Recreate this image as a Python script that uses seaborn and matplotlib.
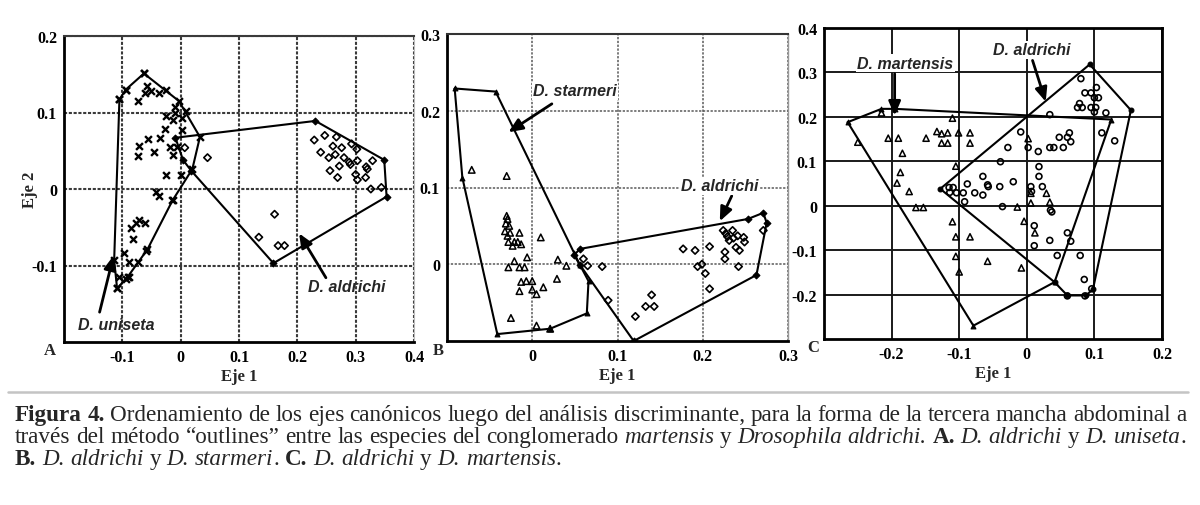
import numpy as np
import pandas as pd
import matplotlib
matplotlib.use("Agg")
import matplotlib.pyplot as plt
from matplotlib.ticker import FuncFormatter
import seaborn as sns

# ---------------- Panel A: D. uniseta vs D. aldrichi ----------------
a_uniseta_x = [-0.063, -0.094, -0.105, -0.074, -0.057, -0.061, -0.051, -0.037, -0.025, -0.009,
               0.009, -0.009, -0.026, -0.013, 0.003, 0.003, -0.027, -0.035, -0.056, -0.071,
               -0.073, -0.045, -0.019, -0.013, -0.006, -0.026, 0.000, -0.043, -0.038, -0.015,
               -0.086, -0.077, -0.071, -0.061, -0.082, -0.097, -0.089, -0.074, -0.060, -0.106,
               -0.094, -0.089, -0.109]
a_uniseta_y = [0.151, 0.130, 0.118, 0.115, 0.134, 0.126, 0.128, 0.126, 0.130, 0.107,
               0.102, 0.099, 0.095, 0.090, 0.093, 0.077, 0.078, 0.067, 0.065, 0.056,
               0.043, 0.048, 0.055, 0.044, 0.055, 0.018, 0.018, -0.004, -0.009, -0.015,
               -0.051, -0.044, -0.040, -0.044, -0.066, -0.084, -0.095, -0.095, -0.081, -0.115,
               -0.117, -0.115, -0.130]
a_aldrichi_x = [0.229, 0.247, 0.267, 0.261, 0.276, 0.293, 0.302, 0.240, 0.254, 0.265,
                0.280, 0.289, 0.272, 0.256, 0.291, 0.303, 0.329, 0.318, 0.320, 0.269,
                0.300, 0.303, 0.317, 0.326, 0.344, 0.161, 0.134, 0.167, 0.178, 0.046,
                0.007]
a_aldrichi_y = [0.064, 0.070, 0.068, 0.056, 0.054, 0.059, 0.052, 0.048, 0.041, 0.045,
                0.041, 0.035, 0.030, 0.024, 0.032, 0.037, 0.037, 0.029, 0.026, 0.015,
                0.019, 0.012, 0.015, 0.000, 0.002, -0.033, -0.063, -0.074, -0.074, 0.041,
                0.054]
a_uniseta_hull_x = [-0.063, -0.003, 0.033, 0.020, -0.014, -0.057, -0.091, -0.109, -0.114, -0.105, -0.094]
a_uniseta_hull_y = [0.151, 0.115, 0.068, 0.026, -0.015, -0.079, -0.115, -0.130, -0.093, 0.117, 0.130]
a_aldrichi_hull_x = [0.231, 0.349, 0.353, 0.159, 0.018, 0.004, -0.009]
a_aldrichi_hull_y = [0.089, 0.038, -0.010, -0.097, 0.024, 0.038, 0.067]

# ---------------- Panel B: D. starmeri vs D. aldrichi ----------------
b_starmeri_x = [-0.071, -0.030, -0.030, -0.029, -0.031, -0.027, -0.032, -0.026, -0.029, -0.015,
                -0.021, -0.017, -0.013, -0.028, -0.023, 0.010, -0.006, -0.021, -0.028, -0.015,
                -0.009, 0.030, 0.040, 0.029, -0.013, -0.007, 0.000, -0.015, 0.000, 0.005,
                0.013, -0.025, 0.005, 0.021]
b_starmeri_y = [0.123, 0.115, 0.063, 0.059, 0.053, 0.050, 0.043, 0.041, 0.037, 0.041,
                0.029, 0.029, 0.026, 0.029, 0.024, 0.035, 0.009, 0.004, -0.004, -0.004,
                -0.004, 0.006, -0.002, -0.019, -0.023, -0.022, -0.022, -0.035, -0.033, -0.039,
                -0.030, -0.070, -0.080, -0.084]
b_aldrichi_x = [0.060, 0.065, 0.082, 0.089, 0.177, 0.191, 0.208, 0.194, 0.199, 0.203,
                0.208, 0.224, 0.227, 0.229, 0.235, 0.231, 0.236, 0.241, 0.248, 0.249,
                0.239, 0.243, 0.226, 0.226, 0.242, 0.271, 0.140, 0.133, 0.143, 0.121]
b_aldrichi_y = [0.007, -0.002, -0.003, -0.047, 0.020, 0.018, 0.023, -0.003, 0.000, -0.012,
                -0.032, 0.044, 0.040, 0.036, 0.044, 0.031, 0.034, 0.037, 0.035, 0.029,
                0.022, 0.018, 0.016, 0.007, -0.003, 0.044, -0.040, -0.055, -0.055, -0.068]
b_starmeri_hull_x = [-0.091, -0.043, 0.049, 0.056, 0.066, 0.064, 0.021, -0.041, -0.082]
b_starmeri_hull_y = [0.229, 0.225, 0.015, -0.001, -0.022, -0.064, -0.084, -0.091, 0.113]
b_aldrichi_hull_x = [0.056, 0.253, 0.271, 0.275, 0.263, 0.119, 0.056, 0.049]
b_aldrichi_hull_y = [0.020, 0.059, 0.067, 0.054, -0.014, -0.100, -0.001, 0.012]

# ---------------- Panel C: D. martensis vs D. aldrichi ----------------
c_martensis_x = [-0.250, -0.215, -0.205, -0.190, -0.184, -0.187, -0.192, -0.174, -0.164, -0.153,
                 -0.149, -0.133, -0.126, -0.117, -0.126, -0.117, -0.101, -0.084, -0.084, -0.110,
                 -0.105, -0.110, -0.105, -0.084, -0.105, -0.100, -0.058, 0.002, 0.006, 0.006,
                 -0.014, -0.004, 0.029, 0.034, 0.012, -0.008]
c_martensis_y = [0.143, 0.209, 0.152, 0.152, 0.118, 0.075, 0.051, 0.032, -0.004, -0.004,
                 0.152, 0.167, 0.162, 0.164, 0.141, 0.141, 0.164, 0.164, 0.141, 0.197,
                 0.089, -0.036, -0.070, -0.070, -0.114, -0.149, -0.125, 0.151, 0.028, 0.006,
                 -0.003, -0.035, 0.028, 0.008, -0.061, -0.140]
c_aldrichi_x = [-0.115, -0.109, -0.114, -0.104, -0.094, -0.092, -0.088, -0.077, -0.065, -0.065,
                -0.058, -0.057, -0.040, -0.020, -0.036, -0.039, -0.028, -0.009, 0.002, 0.017,
                0.034, 0.018, 0.018, 0.023, 0.006, 0.007, 0.035, 0.037, 0.011, 0.011,
                0.034, 0.045, 0.060, 0.065, 0.079, 0.085, 0.096, 0.060, 0.086, 0.034,
                0.040, 0.048, 0.054, 0.060, 0.063, 0.065, 0.080, 0.086, 0.095, 0.103,
                0.106, 0.100, 0.078, 0.082, 0.075, 0.095, 0.100, 0.102, 0.117, 0.111,
                0.130]
c_aldrichi_y = [0.041, 0.041, 0.030, 0.029, 0.029, 0.009, 0.049, 0.029, 0.024, 0.066,
                0.047, 0.043, 0.043, 0.054, -0.002, 0.099, 0.131, 0.166, 0.131, 0.122,
                0.205, 0.088, 0.066, 0.043, 0.043, 0.032, -0.010, -0.014, -0.045, -0.090,
                -0.078, -0.112, -0.061, -0.080, -0.112, -0.166, -0.187, -0.203, -0.203, 0.131,
                0.131, 0.154, 0.131, 0.154, 0.164, 0.144, 0.286, 0.254, 0.254, 0.266,
                0.243, 0.243, 0.230, 0.221, 0.221, 0.221, 0.211, 0.221, 0.209, 0.164,
                0.146]
c_martensis_hull_x = [-0.265, -0.215, -0.195, 0.125, 0.041, -0.079]
c_martensis_hull_y = [0.188, 0.218, 0.218, 0.194, -0.172, -0.270]
c_aldrichi_hull_x = [0.093, 0.154, 0.098, 0.088, 0.060, 0.041, -0.128]
c_aldrichi_hull_y = [0.318, 0.215, -0.187, -0.202, -0.202, -0.172, 0.038]

# species labels: (text, text_x, text_y, tail_x, tail_y, head_x, head_y)
a_labels = [("D. uniseta", -0.110, -0.177, -0.139, -0.161, -0.115, -0.087),
            ("D. aldrichi", 0.285, -0.127, 0.249, -0.116, 0.203, -0.058)]
b_labels = [("D. starmeri", 0.050, 0.226, 0.023, 0.209, -0.028, 0.172),
            ("D. aldrichi", 0.220, 0.102, 0.234, 0.089, 0.220, 0.056)]
c_labels = [("D. martensis", -0.180, 0.321, -0.1955, 0.297, -0.1955, 0.203),
            ("D. aldrichi", 0.0075, 0.351, 0.0085, 0.327, 0.028, 0.234)]

caption_lines = [
    [("Figura 4.", "bold"),
     (" Ordenamiento de los ejes canónicos luego del análisis discriminante, para la forma de la tercera mancha abdominal a", "normal")],
    [("través del método “outlines” entre las especies del conglomerado ", "normal"),
     ("martensis", "italic"), (" y ", "normal"), ("Drosophila aldrichi.", "italic"),
     (" A.", "bold"), (" D. aldrichi", "italic"), (" y ", "normal"), ("D. uniseta", "italic"),
     (".", "normal")],
    [("B.", "bold"), (" D. aldrichi", "italic"), (" y ", "normal"), ("D. starmeri", "italic"),
     (". ", "normal"), ("C.", "bold"), (" D. aldrichi", "italic"), (" y ", "normal"),
     ("D. martensis", "italic"), (".", "normal")],
]

sns.set_theme(style="white")
plt.rcParams["font.family"] = ["Liberation Serif", "DejaVu Serif"]

W, H = 1200, 506
fig = plt.figure(figsize=(W / 100, H / 100), dpi=100)


def box(left, top, right, bottom):
    return [left / W, 1 - bottom / H, (right - left) / W, (bottom - top) / H]


tick_font = dict(family="Liberation Serif", weight="bold", size=11.5)
lab_font = dict(family="Liberation Sans", weight="bold", style="italic", size=11.5)
fmt = FuncFormatter(lambda v, p: "0" if abs(v) < 1e-9 else f"{v:.1f}")


def points(ax, xs, ys, marker, s, lw, filled=False):
    if marker == "x":
        sns.scatterplot(x=xs, y=ys, ax=ax, marker="x", s=s, color="black", linewidth=lw, zorder=4)
    else:
        sns.scatterplot(x=xs, y=ys, ax=ax, marker=marker, s=s,
                        facecolor="black" if filled else "none",
                        edgecolor="black", linewidth=lw, zorder=4)


def hull(ax, xs, ys, marker, lw=1.5):
    hx = list(xs) + [xs[0]]
    hy = list(ys) + [ys[0]]
    ax.plot(hx, hy, color="black", lw=lw, zorder=3, solid_joinstyle="miter")
    if marker == "x":
        sns.scatterplot(x=xs, y=ys, ax=ax, marker="x", s=24, color="black", linewidth=1.7, zorder=5)
    else:
        sns.scatterplot(x=xs, y=ys, ax=ax, marker=marker, s=12, color="black",
                        edgecolor="black", linewidth=0.8, zorder=5)


def labels(ax, items, bg=False):
    for text, tx, ty, x0, y0, x1, y1 in items:
        ax.text(tx, ty, text, ha="center", va="center", zorder=7,
                bbox=dict(fc="white", ec="none", pad=1) if bg else None, **lab_font)
        ax.annotate("", xy=(x1, y1), xytext=(x0, y0), zorder=6,
                    arrowprops=dict(arrowstyle="-|>,head_length=0.7,head_width=0.3",
                                    color="black", lw=2, shrinkA=0, shrinkB=0))


def style_axes(ax, xlim, ylim, xt, yt, grid_color, grid_ls, grid_lw, spines):
    ax.set_xlim(*xlim)
    ax.set_ylim(*ylim)
    ax.set_xticks(xt)
    ax.set_yticks(yt)
    ax.xaxis.set_major_formatter(fmt)
    ax.yaxis.set_major_formatter(fmt)
    ax.grid(True, color=grid_color, ls=grid_ls, lw=grid_lw, zorder=0)
    ax.set_axisbelow(True)
    ax.tick_params(length=0, pad=5)
    for lab in ax.get_xticklabels() + ax.get_yticklabels():
        lab.set_fontfamily(tick_font["family"])
        lab.set_fontweight(tick_font["weight"])
        lab.set_fontsize(tick_font["size"])
        lab.set_color("black")
    for side, (c, ls, lw) in spines.items():
        sp = ax.spines[side]
        sp.set_visible(True)
        sp.set_color(c)
        sp.set_linestyle(ls)
        sp.set_linewidth(lw)
    ax.set_xlabel("Eje 1", fontfamily="Liberation Serif", fontweight="bold", fontsize=12, labelpad=2)


# Panel A
axA = fig.add_axes(box(64, 37, 414, 343))
style_axes(axA, (-0.2, 0.4), (-0.2, 0.2), [-0.1, 0, 0.1, 0.2, 0.3, 0.4], [-0.1, 0, 0.1, 0.2],
           "#3a3a3a", (0, (1.5, 0.8)), 1.5,
           {"left": ("black", "-", 2), "bottom": ("black", "-", 2),
            "top": ("#3a3a3a", (0, (1.5, 0.8)), 1.5), "right": ("#bbbbbb", "-", 0.8)})
axA.set_ylabel("Eje 2", fontfamily="Liberation Serif", fontweight="bold", fontsize=12)
axA.yaxis.set_label_coords(-0.075, 0.5)
hull(axA, a_uniseta_hull_x, a_uniseta_hull_y, "x")
hull(axA, a_aldrichi_hull_x, a_aldrichi_hull_y, "D")
points(axA, a_uniseta_x, a_uniseta_y, "x", 24, 1.7)
points(axA, a_aldrichi_x, a_aldrichi_y, "D", 14, 1.2)
labels(axA, a_labels)

# Panel B
axB = fig.add_axes(box(447, 35, 788, 342))
style_axes(axB, (-0.1, 0.3), (-0.1, 0.3), [0, 0.1, 0.2, 0.3], [0, 0.1, 0.2, 0.3],
           "#5a5a5a", (0, (1.5, 1)), 1.1,
           {"left": ("black", "-", 2), "bottom": ("black", "-", 2),
            "top": ("#333333", "-", 1.5), "right": ("#999999", "-", 1)})
hull(axB, b_starmeri_hull_x, b_starmeri_hull_y, "^")
hull(axB, b_aldrichi_hull_x, b_aldrichi_hull_y, "D")
points(axB, b_starmeri_x, b_starmeri_y, "^", 22, 1.1)
points(axB, b_aldrichi_x, b_aldrichi_y, "D", 14, 1.2)
labels(axB, b_labels, bg=True)

# Panel C
axC = fig.add_axes(box(824, 29, 1162, 340))
style_axes(axC, (-0.3, 0.2), (-0.3, 0.4), [-0.2, -0.1, 0, 0.1, 0.2],
           [-0.2, -0.1, 0, 0.1, 0.2, 0.3, 0.4],
           "#1a1a1a", "-", 1.4,
           {s: ("black", "-", 2) for s in ["left", "bottom", "top", "right"]})
hull(axC, c_martensis_hull_x, c_martensis_hull_y, "^")
hull(axC, c_aldrichi_hull_x, c_aldrichi_hull_y, "o")
points(axC, c_martensis_x, c_martensis_y, "^", 20, 1.1)
points(axC, c_aldrichi_x, c_aldrichi_y, "o", 18, 1.2)
labels(axC, c_labels, bg=True)

# panel letters
for letter, px, py in [("A", 50, 351), ("B", 438, 351), ("C", 813, 348)]:
    fig.text(px / W, 1 - py / H, letter, ha="center", va="center",
             fontfamily="Liberation Serif", fontweight="bold", fontsize=12)

# separator above the caption
fig.add_artist(plt.Line2D([8 / W, 1188 / W], [1 - 392.5 / H, 1 - 392.5 / H],
                          color="#c4c4c4", lw=1.8))

# caption, justified word by word
renderer = fig.canvas.get_renderer()
style_kw = {"normal": {}, "bold": {"fontweight": "bold"}, "italic": {"fontstyle": "italic"}}
cap_size = 12.0


def measure(s, st):
    t = fig.text(0, 0, s, fontsize=cap_size, fontfamily="Liberation Serif", **style_kw[st])
    w = t.get_window_extent(renderer).width
    t.remove()
    return w


def split_words(runs):
    words, cur = [], []
    for text, st in runs:
        parts = text.split(" ")
        for i, p in enumerate(parts):
            if i > 0 and cur:
                words.append(cur)
                cur = []
            if p:
                cur.append((p, st))
    if cur:
        words.append(cur)
    return words


def natural_width(runs):
    words = split_words(runs)
    space = measure("a a", "normal") - measure("aa", "normal")
    return sum(measure(p, st) for w in words for p, st in w) + space * (len(words) - 1)


# size the caption so that its first line fills the text block
left_px, right_px = 15, 1186
cap_size = cap_size * (right_px - left_px) / natural_width(caption_lines[0])


def draw_caption_line(runs, x0, y, target=None):
    words = split_words(runs)
    widths = [[measure(p, st) for p, st in w] for w in words]
    space = measure("a a", "normal") - measure("aa", "normal")
    total = sum(sum(w) for w in widths)
    gap = space if target is None else (target - total) / (len(words) - 1)
    x = x0
    for w, ws in zip(words, widths):
        for (p, st), pw in zip(w, ws):
            fig.text(x / W, 1 - y / H, p, fontsize=cap_size, fontfamily="Liberation Serif",
                     va="baseline", ha="left", **style_kw[st])
            x += pw
        x += gap


draw_caption_line(caption_lines[0], left_px, 421, target=right_px - left_px)
draw_caption_line(caption_lines[1], left_px, 443, target=right_px - left_px)
draw_caption_line(caption_lines[2], left_px, 465)

fig.savefig("out.png", dpi=100, facecolor="white")
